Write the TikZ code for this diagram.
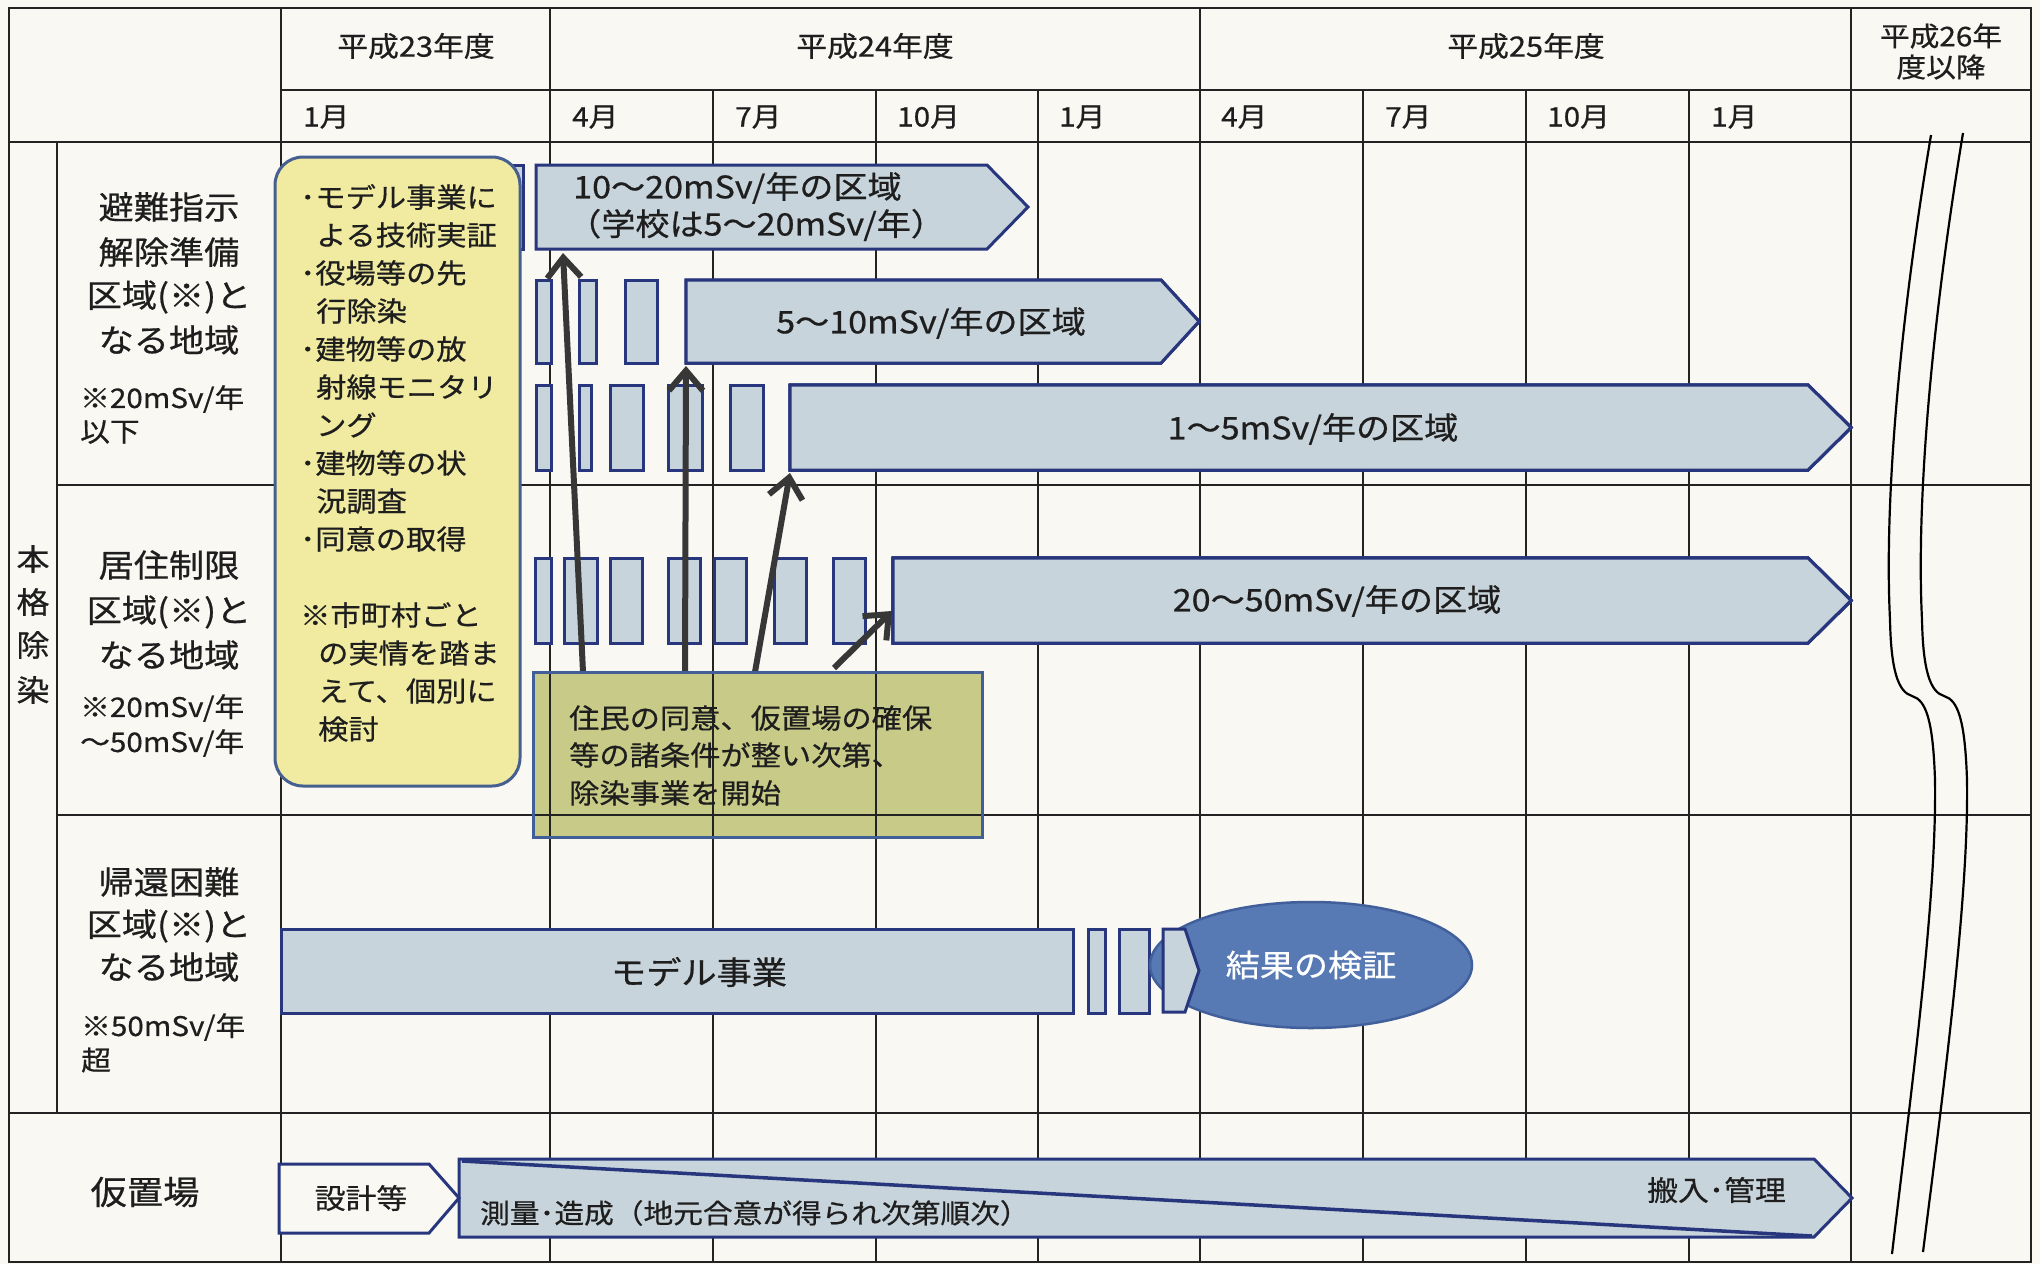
\documentclass[tikz,border=0pt]{standalone}
\usepackage{fontspec}
\setmainfont{Noto Sans CJK JP}[FakeStretch=1.1,FakeBold=0.6]
\usetikzlibrary{arrows.meta,shapes.geometric}
\definecolor{paper}{RGB}{249,248,243}
\definecolor{gridc}{RGB}{35,35,35}
\definecolor{barfill}{RGB}{200,212,219}
\definecolor{bardraw}{RGB}{40,55,125}
\definecolor{yfill}{RGB}{240,235,160}
\definecolor{ydraw}{RGB}{70,95,145}
\definecolor{gfill}{RGB}{200,203,135}
\definecolor{gdraw}{RGB}{65,95,150}
\definecolor{efill}{RGB}{88,122,180}
\definecolor{edraw}{RGB}{65,95,155}
\definecolor{arrowc}{RGB}{55,55,55}
\definecolor{txtc}{RGB}{30,30,30}
\newcommand{\fs}[1]{\fontsize{#1}{#1}\selectfont}
\newcommand{\pent}[5]{\draw[barshape] (#1,#2) -- (#3,#2) -- (#4,{(#2+#5)/2}) -- (#3,#5) -- (#1,#5) -- cycle;}
\newcommand{\piece}[4]{\draw[barshape] (#1,#2) rectangle (#3,#4);}
\tikzset{
  gridline/.style={draw=gridc, line width=2.6pt},
  barshape/.style={fill=barfill, draw=bardraw, line width=3pt, line join=miter},
  txt/.style={inner sep=0pt, text=txtc},
  arr/.style={draw=arrowc, line width=6pt, -{Straight Barb[length=20pt,width=34pt]}},
  brk/.style={draw=black, line width=2.2pt},
}
\begin{document}
\begin{tikzpicture}[x=1pt,y=-1pt]
\path[use as bounding box, fill=paper] (0,0) rectangle (2040,1264);

% green box fill (grid shows through)
\fill[gfill] (533,672) rectangle (982,837);

% grid
\draw[gridline] (9,8) rectangle (2031,1262);
\draw[gridline] (281,90) -- (2031,90);
\draw[gridline] (9,142) -- (2031,142);
\draw[gridline] (57,485) -- (2031,485);
\draw[gridline] (57,815) -- (2031,815);
\draw[gridline] (9,1113) -- (2031,1113);
\draw[gridline] (57,142) -- (57,1113);
\foreach \x in {281,550,1200,1851} \draw[gridline] (\x,8) -- (\x,1262);
\foreach \x in {713,876,1038,1363,1526,1689} \draw[gridline] (\x,90) -- (\x,1262);

% break lines
\draw[brk] (1931,135) .. controls (1900,320) and (1884,500) .. (1890,620) .. controls (1891,670) and (1898,692) .. (1912,696) .. controls (1926,700) and (1933,720) .. (1935,780) .. controls (1937,900) and (1910,1100) .. (1892,1254);
\begin{scope}[xshift=32pt]
\draw[brk] (1931,133) .. controls (1900,320) and (1884,500) .. (1890,620) .. controls (1891,670) and (1898,692) .. (1912,696) .. controls (1926,700) and (1933,720) .. (1935,780) .. controls (1937,900) and (1910,1100) .. (1891,1252);
\end{scope}

% header texts
\node[txt,font=\fs{28}] (h23) at (416,46) {平成23年度};
\node[txt,font=\fs{28}] (h24) at (875,46) {平成24年度};
\node[txt,font=\fs{28}] (h25) at (1526,46) {平成25年度};
\node[txt,font=\fs{27}] (h26a) at (1941,36) {平成26年};
\node[txt,font=\fs{27}] (h26b) at (1941,67) {度以降};
\foreach \x/\m [count=\i] in {303/1月,572/4月,735/7月,897/10月,1059/1月,1221/4月,1385/7月,1547/10月,1711/1月}
  \node[txt,font=\fs{27},anchor=west] (mon\i) at (\x,117) {\m};

% left column labels
\foreach \c/\yy [count=\i] in {本/559,格/602,除/645,染/690}
  \node[txt,font=\fs{30}] (hk\i) at (33,\yy) {\c};

\node[txt,font=\fs{32}] (r1a) at (169,207) {避難指示};
\node[txt,font=\fs{32}] (r1b) at (169,252) {解除準備};
\node[txt,font=\fs{32}] (r1c) at (169,297) {区域(※)と};
\node[txt,font=\fs{32}] (r1d) at (169,340) {なる地域};
\node[txt,font=\fs{27},anchor=west] (r1e) at (80,399) {※20mSv/年};
\node[txt,font=\fs{27},anchor=west] (r1f) at (80,432) {以下};

\node[txt,font=\fs{32}] (r2a) at (169,565) {居住制限};
\node[txt,font=\fs{32}] (r2b) at (169,612) {区域(※)と};
\node[txt,font=\fs{32}] (r2c) at (169,655) {なる地域};
\node[txt,font=\fs{27},anchor=west] (r2d) at (80,708) {※20mSv/年};
\node[txt,font=\fs{27},anchor=west] (r2e) at (80,743) {～50mSv/年};

\node[txt,font=\fs{32}] (r3a) at (169,882) {帰還困難};
\node[txt,font=\fs{32}] (r3b) at (169,926) {区域(※)と};
\node[txt,font=\fs{32}] (r3c) at (169,967) {なる地域};
\node[txt,font=\fs{27},anchor=west] (r3d) at (81,1027) {※50mSv/年};
\node[txt,font=\fs{27},anchor=west] (r3e) at (81,1060) {超};

\node[txt,font=\fs{33}] (r4a) at (145,1192) {仮置場};

% bars row 1
\piece{470}{165}{523}{249}
\pent{536}{165}{987}{1028}{249}
\node[txt,font=\fs{31},anchor=west] (b1a) at (573,188) {10～20mSv/年の区域};
\node[txt,font=\fs{31},anchor=west] (b1b) at (567,225) {（学校は5～20mSv/年）};

\foreach \a/\b in {536/551,579/596,625/657} \piece{\a}{280}{\b}{363}
\pent{686}{280}{1161}{1199}{363}
\node[txt,font=\fs{31}] (b2) at (931,323) {5～10mSv/年の区域};

\foreach \a/\b in {536/551,579/591,610/643,668/702,730/763} \piece{\a}{385}{\b}{470}
\pent{790}{385}{1808}{1851}{470}
\node[txt,font=\fs{31}] (b3) at (1313,429) {1～5mSv/年の区域};

% bars row 2
\foreach \a/\b in {535/551,564/597,610/642,668/700,714/746,774/806,833/865} \piece{\a}{558}{\b}{643}
\pent{893}{558}{1808}{1851}{643}
\node[txt,font=\fs{31}] (b4) at (1337,601) {20～50mSv/年の区域};

% bars row 3
\piece{281}{929}{1073}{1013}
\node[txt,font=\fs{32}] (b5) at (699,972) {モデル事業};
\piece{1088}{929}{1105}{1013}
\piece{1119}{929}{1149}{1013}
\node[ellipse, draw=edraw, fill=efill, line width=2.5pt, minimum width=322pt, minimum height=126pt, inner sep=0pt, text=white, font=\fs{31}] (verify) at (1311,965) {結果の検証};
\pent{1163}{929}{1185}{1199}{1012}

% row 4
\draw[barshape] (459,1159) -- (1814,1159) -- (1852,1198) -- (1814,1237) -- (459,1237) -- cycle;
\draw[draw=bardraw, line width=3.5pt] (462,1161) -- (1812,1236);
\draw[barshape, fill=paper] (279,1164) -- (429,1164) -- (459,1198) -- (429,1233) -- (279,1233) -- cycle;
\node[txt,font=\fs{28}] (b6) at (361,1198) {設計等};
\node[txt,font=\fs{27},anchor=west] (b7) at (480,1213) {測量･造成（地元合意が得られ次第順次）};
\node[txt,font=\fs{28},anchor=east] (b8) at (1786,1190) {搬入･管理};

% arrows
\coordinate (a1s) at (583,672); \coordinate (a1e) at (563,253);
\coordinate (a2s) at (685,672); \coordinate (a2e) at (686,366);
\coordinate (a3s) at (755,672); \coordinate (a3e) at (790,473);
\coordinate (a4s) at (834,668); \coordinate (a4e) at (892,611);
\draw[arr] (a1s) -- (a1e);
\draw[arr] (a2s) -- (a2e);
\draw[arr] (a3s) -- (a3e);
\draw[arr] (a4s) -- (a4e);

% green box
\node[draw=gdraw, line width=3pt, minimum width=449pt, minimum height=165pt, inner sep=0pt] (gbox) at (757.5,754.5) {};
\node[txt,font=\fs{27.5},anchor=west] (g1) at (569,718) {住民の同意、仮置場の確保};
\node[txt,font=\fs{27.5},anchor=west] (g2) at (569,755) {等の諸条件が整い次第、};
\node[txt,font=\fs{27.5},anchor=west] (g3) at (569,793) {除染事業を開始};

% yellow box
\node[draw=ydraw, fill=yfill, line width=3pt, rounded corners=28pt, minimum width=245pt, minimum height=629pt, inner sep=0pt] (ybox) at (397.5,471.5) {};
\foreach \t/\xx/\yy [count=\i] in {･モデル事業に/300/197, よる技術実証/316/235, ･役場等の先/300/273, 行除染/316/311, ･建物等の放/300/349, 射線モニタリ/316/387, ング/316/425, ･建物等の状/300/463, 況調査/316/501, ･同意の取得/300/539, ※市町村ごと/300/615, の実情を踏ま/318/653, えて、個別に/318/691, 検討/318/729}
  \node[txt,font=\fs{27.5},anchor=west] (y\i) at (\xx,\yy) {\t};
\end{tikzpicture}
\end{document}
